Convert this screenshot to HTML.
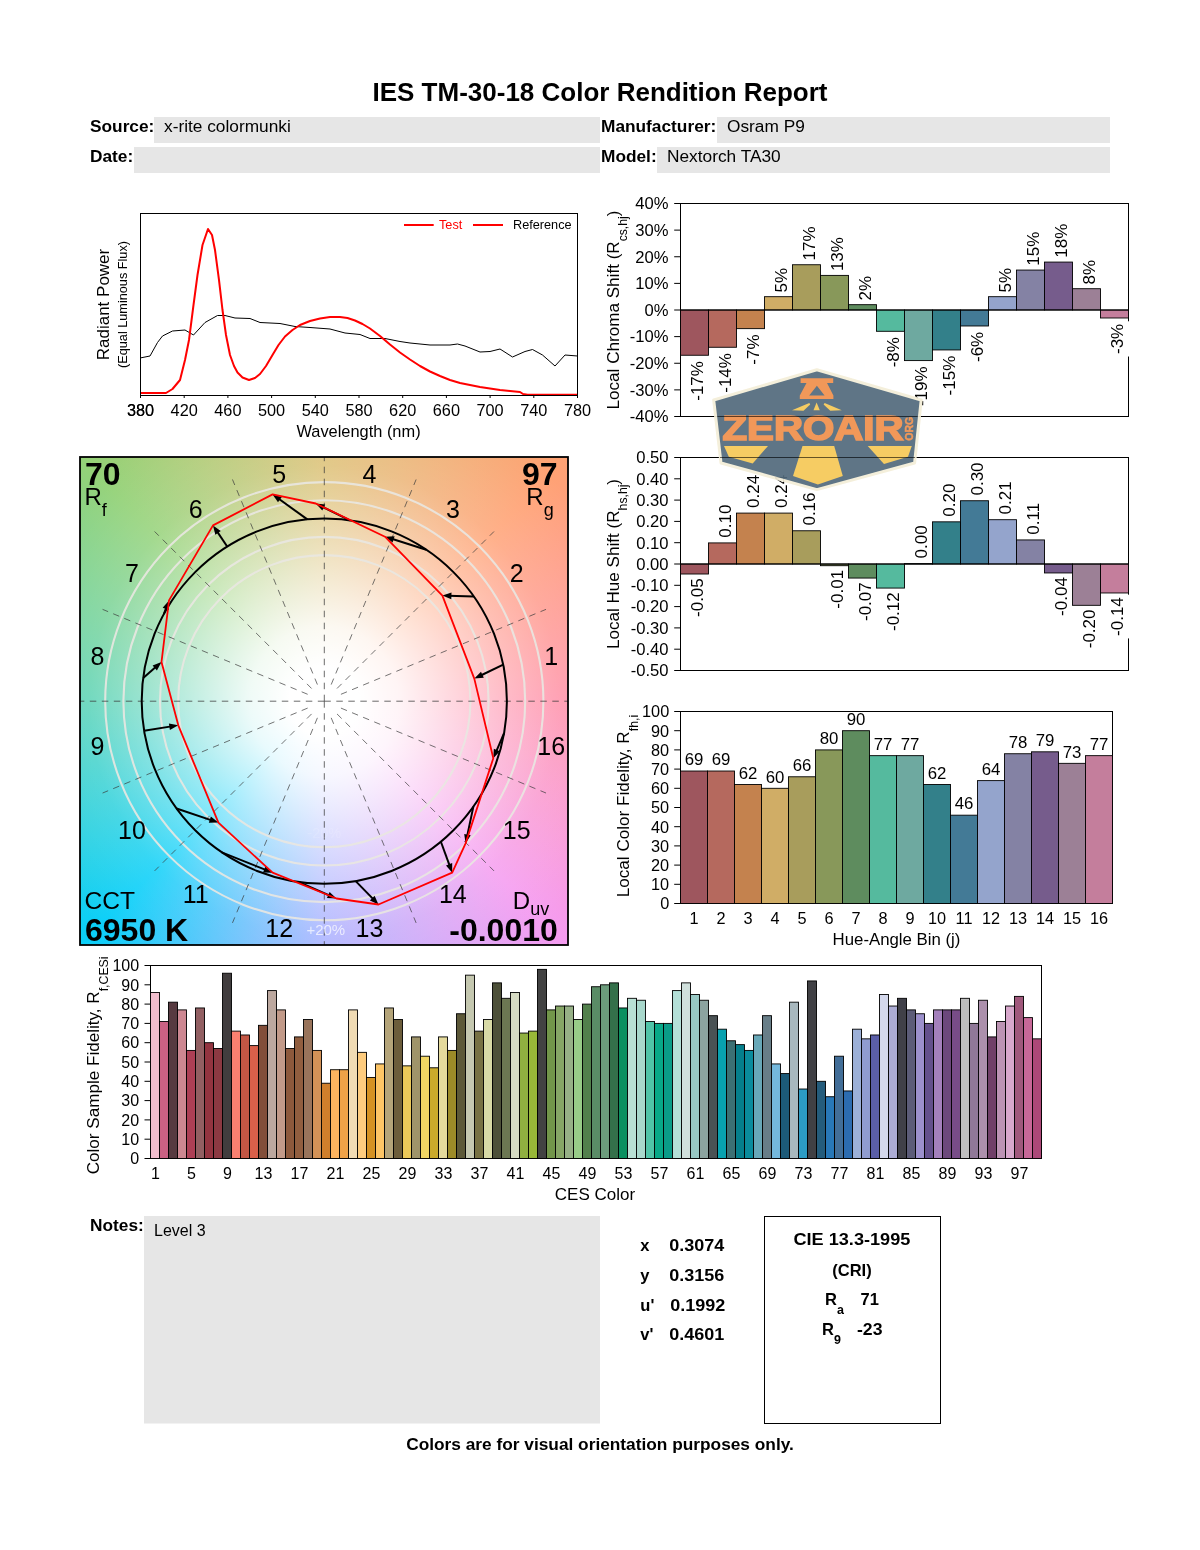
<!DOCTYPE html>
<html lang="en"><head><meta charset="utf-8"><title>IES TM-30-18 Color Rendition Report</title>
<style>
html,body{margin:0;padding:0;background:#fff;}
body{width:1200px;height:1550px;position:relative;overflow:hidden;font-family:"Liberation Sans", sans-serif;}
#cvgbg{position:absolute;left:80px;top:457px;width:488px;height:488px;
background:
radial-gradient(circle at 244.3px 244.2px, rgba(255,255,255,1) 0px, rgba(255,255,255,1) 35px, rgba(255,255,255,0.9) 75px, rgba(255,255,255,0.66) 125px, rgba(255,255,255,0.38) 183px, rgba(255,255,255,0.16) 235px, rgba(255,255,255,0) 320px),
conic-gradient(from 90deg at 244.3px 244.2px, #ff90a8 0deg, #f59cf0 45deg, #a8b0ff 90deg, #0acff8 135deg, #58d2b4 180deg, #94d278 225deg, #dcc074 270deg, #ffa274 315deg, #ff90a8 360deg);}
svg{position:absolute;left:0;top:0;font-family:"Liberation Sans", sans-serif;}
</style></head><body>
<div id="cvgbg"></div>
<svg width="1200" height="1550" viewBox="0 0 1200 1550">
<defs><clipPath id="cvgclip"><rect x="80" y="457" width="488" height="488"/></clipPath></defs>
<text x="600.00" y="101.00" font-size="26" text-anchor="middle" font-weight="bold" fill="#000">IES TM-30-18 Color Rendition Report</text>
<rect x="154.00" y="117.00" width="446.00" height="26.00" fill="#e6e6e6" stroke="none" stroke-width="1"/>
<rect x="134.00" y="147.00" width="466.00" height="26.00" fill="#e6e6e6" stroke="none" stroke-width="1"/>
<rect x="717.00" y="117.00" width="393.00" height="26.00" fill="#e6e6e6" stroke="none" stroke-width="1"/>
<rect x="657.00" y="147.00" width="453.00" height="26.00" fill="#e6e6e6" stroke="none" stroke-width="1"/>
<text x="90.00" y="132.00" font-size="17.3" text-anchor="start" font-weight="bold" fill="#000">Source:</text>
<text x="90.00" y="162.00" font-size="17.3" text-anchor="start" font-weight="bold" fill="#000">Date:</text>
<text x="601.00" y="132.00" font-size="17.3" text-anchor="start" font-weight="bold" fill="#000">Manufacturer:</text>
<text x="601.00" y="162.00" font-size="17.3" text-anchor="start" font-weight="bold" fill="#000">Model:</text>
<text x="164.00" y="132.00" font-size="17.3" text-anchor="start" fill="#000">x-rite colormunki</text>
<text x="727.00" y="132.00" font-size="17.3" text-anchor="start" fill="#000">Osram P9</text>
<text x="667.00" y="162.00" font-size="17.3" text-anchor="start" fill="#000">Nextorch TA30</text>
<polyline points="140.0,358.0 150.0,356.0 157.5,342.5 162.5,336.0 172.5,331.0 185.0,330.0 193.5,335.0 205.0,322.5 217.5,315.5 225.0,315.5 235.0,318.0 250.0,318.5 260.0,322.5 280.0,323.5 295.0,326.5 310.0,327.5 330.0,329.0 345.0,333.0 360.0,334.5 370.0,338.5 385.0,338.5 400.0,341.5 410.0,343.0 430.0,345.0 450.0,345.0 457.5,344.0 465.0,346.0 480.0,352.0 490.0,351.5 500.0,349.0 512.5,357.0 525.0,351.5 532.5,349.5 542.5,355.0 555.0,366.0 565.0,355.0 577.5,356.0" fill="none" stroke="#000" stroke-width="1"/>
<polyline points="140.0,393.0 166.0,393.0 172.5,389.0 180.0,380.0 185.0,360.0 189.0,340.0 193.5,305.0 197.5,275.0 202.5,245.0 208.0,229.0 212.0,235.0 215.0,250.0 219.0,280.0 222.5,310.0 226.0,335.0 230.0,355.0 234.0,366.0 237.5,372.5 242.5,377.5 249.0,380.0 255.0,378.0 260.0,374.0 266.0,366.0 272.5,355.0 278.5,345.0 285.0,336.5 292.5,330.0 300.0,325.0 310.0,321.0 320.0,318.5 330.0,317.0 340.0,317.0 347.5,318.0 355.0,320.5 362.5,324.0 370.0,328.5 380.0,336.0 390.0,344.5 400.0,352.5 410.0,359.5 420.0,366.0 430.0,371.5 440.0,376.0 450.0,380.0 460.0,383.0 470.0,385.0 480.0,387.0 490.0,388.5 500.0,390.0 510.0,391.0 520.0,392.0 523.0,394.0 527.5,394.8 577.5,394.8" fill="none" stroke="#f00" stroke-width="2" stroke-linejoin="round"/>
<rect x="140.50" y="213.50" width="437.00" height="182.00" fill="none" stroke="#000" stroke-width="1"/>
<line x1="140.50" y1="395.50" x2="140.50" y2="398.00" stroke="#000" stroke-width="1"/>
<text x="140.50" y="415.50" font-size="16.3" text-anchor="middle" fill="#000">380</text>
<line x1="184.20" y1="395.50" x2="184.20" y2="398.00" stroke="#000" stroke-width="1"/>
<text x="184.20" y="415.50" font-size="16.3" text-anchor="middle" fill="#000">420</text>
<line x1="227.90" y1="395.50" x2="227.90" y2="398.00" stroke="#000" stroke-width="1"/>
<text x="227.90" y="415.50" font-size="16.3" text-anchor="middle" fill="#000">460</text>
<line x1="271.60" y1="395.50" x2="271.60" y2="398.00" stroke="#000" stroke-width="1"/>
<text x="271.60" y="415.50" font-size="16.3" text-anchor="middle" fill="#000">500</text>
<line x1="315.30" y1="395.50" x2="315.30" y2="398.00" stroke="#000" stroke-width="1"/>
<text x="315.30" y="415.50" font-size="16.3" text-anchor="middle" fill="#000">540</text>
<line x1="359.00" y1="395.50" x2="359.00" y2="398.00" stroke="#000" stroke-width="1"/>
<text x="359.00" y="415.50" font-size="16.3" text-anchor="middle" fill="#000">580</text>
<line x1="402.70" y1="395.50" x2="402.70" y2="398.00" stroke="#000" stroke-width="1"/>
<text x="402.70" y="415.50" font-size="16.3" text-anchor="middle" fill="#000">620</text>
<line x1="446.40" y1="395.50" x2="446.40" y2="398.00" stroke="#000" stroke-width="1"/>
<text x="446.40" y="415.50" font-size="16.3" text-anchor="middle" fill="#000">660</text>
<line x1="490.10" y1="395.50" x2="490.10" y2="398.00" stroke="#000" stroke-width="1"/>
<text x="490.10" y="415.50" font-size="16.3" text-anchor="middle" fill="#000">700</text>
<line x1="533.80" y1="395.50" x2="533.80" y2="398.00" stroke="#000" stroke-width="1"/>
<text x="533.80" y="415.50" font-size="16.3" text-anchor="middle" fill="#000">740</text>
<line x1="577.50" y1="395.50" x2="577.50" y2="398.00" stroke="#000" stroke-width="1"/>
<text x="577.50" y="415.50" font-size="16.3" text-anchor="middle" fill="#000">780</text>
<text x="140.50" y="415.50" font-size="16.3" text-anchor="middle" fill="#000">380</text>
<text x="358.50" y="437.00" font-size="16.4" text-anchor="middle" fill="#000">Wavelength (nm)</text>
<text x="109.30" y="304.50" font-size="17" text-anchor="middle" fill="#000" transform="rotate(-90 109.30 304.50)">Radiant Power</text>
<text x="127.30" y="304.50" font-size="12.7" text-anchor="middle" fill="#000" transform="rotate(-90 127.30 304.50)">(Equal Luminous Flux)</text>
<line x1="404.00" y1="225.00" x2="433.70" y2="225.00" stroke="#f00" stroke-width="2"/>
<text x="439.00" y="229.00" font-size="12.7" text-anchor="start" fill="#f00">Test</text>
<line x1="473.00" y1="225.00" x2="503.00" y2="225.00" stroke="#f00" stroke-width="2"/>
<text x="513.00" y="229.00" font-size="12.7" text-anchor="start" fill="#000">Reference</text>
<rect x="680.50" y="203.50" width="448.00" height="213.00" fill="#fff" stroke="#000" stroke-width="1"/>
<line x1="674.20" y1="416.50" x2="680.50" y2="416.50" stroke="#000" stroke-width="1"/>
<text x="668.50" y="422.30" font-size="16.6" text-anchor="end" fill="#000">-40%</text>
<line x1="674.20" y1="389.88" x2="680.50" y2="389.88" stroke="#000" stroke-width="1"/>
<text x="668.50" y="395.68" font-size="16.6" text-anchor="end" fill="#000">-30%</text>
<line x1="674.20" y1="363.25" x2="680.50" y2="363.25" stroke="#000" stroke-width="1"/>
<text x="668.50" y="369.05" font-size="16.6" text-anchor="end" fill="#000">-20%</text>
<line x1="674.20" y1="336.62" x2="680.50" y2="336.62" stroke="#000" stroke-width="1"/>
<text x="668.50" y="342.43" font-size="16.6" text-anchor="end" fill="#000">-10%</text>
<line x1="674.20" y1="310.00" x2="680.50" y2="310.00" stroke="#000" stroke-width="1"/>
<text x="668.50" y="315.80" font-size="16.6" text-anchor="end" fill="#000">0%</text>
<line x1="674.20" y1="283.38" x2="680.50" y2="283.38" stroke="#000" stroke-width="1"/>
<text x="668.50" y="289.18" font-size="16.6" text-anchor="end" fill="#000">10%</text>
<line x1="674.20" y1="256.75" x2="680.50" y2="256.75" stroke="#000" stroke-width="1"/>
<text x="668.50" y="262.55" font-size="16.6" text-anchor="end" fill="#000">20%</text>
<line x1="674.20" y1="230.12" x2="680.50" y2="230.12" stroke="#000" stroke-width="1"/>
<text x="668.50" y="235.93" font-size="16.6" text-anchor="end" fill="#000">30%</text>
<line x1="674.20" y1="203.50" x2="680.50" y2="203.50" stroke="#000" stroke-width="1"/>
<text x="668.50" y="209.30" font-size="16.6" text-anchor="end" fill="#000">40%</text>
<rect x="680.50" y="310.00" width="28.00" height="45.26" fill="#9E565E" stroke="#000" stroke-width="0.9"/>
<rect x="708.50" y="310.00" width="28.00" height="37.27" fill="#B5695E" stroke="#000" stroke-width="0.9"/>
<rect x="736.50" y="310.00" width="28.00" height="18.64" fill="#C4824E" stroke="#000" stroke-width="0.9"/>
<rect x="764.50" y="296.69" width="28.00" height="13.31" fill="#D0AD66" stroke="#000" stroke-width="0.9"/>
<rect x="792.50" y="264.74" width="28.00" height="45.26" fill="#A89D5C" stroke="#000" stroke-width="0.9"/>
<rect x="820.50" y="275.39" width="28.00" height="34.61" fill="#88985A" stroke="#000" stroke-width="0.9"/>
<rect x="848.50" y="304.68" width="28.00" height="5.32" fill="#5E8C5E" stroke="#000" stroke-width="0.9"/>
<rect x="876.50" y="310.00" width="28.00" height="21.30" fill="#55BA9E" stroke="#000" stroke-width="0.9"/>
<rect x="904.50" y="310.00" width="28.00" height="50.59" fill="#6EA9A0" stroke="#000" stroke-width="0.9"/>
<rect x="932.50" y="310.00" width="28.00" height="39.94" fill="#33808A" stroke="#000" stroke-width="0.9"/>
<rect x="960.50" y="310.00" width="28.00" height="15.98" fill="#437A96" stroke="#000" stroke-width="0.9"/>
<rect x="988.50" y="296.69" width="28.00" height="13.31" fill="#94A4CC" stroke="#000" stroke-width="0.9"/>
<rect x="1016.50" y="270.06" width="28.00" height="39.94" fill="#8482A4" stroke="#000" stroke-width="0.9"/>
<rect x="1044.50" y="262.07" width="28.00" height="47.93" fill="#765C8C" stroke="#000" stroke-width="0.9"/>
<rect x="1072.50" y="288.70" width="28.00" height="21.30" fill="#9C8096" stroke="#000" stroke-width="0.9"/>
<rect x="1100.50" y="310.00" width="28.00" height="7.99" fill="#C47E9C" stroke="#000" stroke-width="0.9"/>
<line x1="680.50" y1="310.00" x2="1128.50" y2="310.00" stroke="#000" stroke-width="1"/>
<rect x="683.50" y="358.56" width="24.40" height="44.68" fill="#fff" stroke="none" stroke-width="1"/>
<text x="702.60" y="361.06" font-size="17" text-anchor="end" fill="#000" transform="rotate(-90 702.60 361.06)">-17%</text>
<rect x="711.50" y="350.57" width="24.40" height="44.68" fill="#fff" stroke="none" stroke-width="1"/>
<text x="730.60" y="353.07" font-size="17" text-anchor="end" fill="#000" transform="rotate(-90 730.60 353.07)">-14%</text>
<rect x="739.50" y="331.94" width="24.40" height="35.23" fill="#fff" stroke="none" stroke-width="1"/>
<text x="758.60" y="334.44" font-size="17" text-anchor="end" fill="#000" transform="rotate(-90 758.60 334.44)">-7%</text>
<rect x="767.50" y="265.32" width="24.40" height="29.57" fill="#fff" stroke="none" stroke-width="1"/>
<text x="786.60" y="292.39" font-size="17" text-anchor="start" fill="#000" transform="rotate(-90 786.60 292.39)">5%</text>
<rect x="795.50" y="223.91" width="24.40" height="39.02" fill="#fff" stroke="none" stroke-width="1"/>
<text x="814.60" y="260.44" font-size="17" text-anchor="start" fill="#000" transform="rotate(-90 814.60 260.44)">17%</text>
<rect x="823.50" y="234.56" width="24.40" height="39.02" fill="#fff" stroke="none" stroke-width="1"/>
<text x="842.60" y="271.09" font-size="17" text-anchor="start" fill="#000" transform="rotate(-90 842.60 271.09)">13%</text>
<rect x="851.50" y="273.30" width="24.40" height="29.57" fill="#fff" stroke="none" stroke-width="1"/>
<text x="870.60" y="300.38" font-size="17" text-anchor="start" fill="#000" transform="rotate(-90 870.60 300.38)">2%</text>
<rect x="879.50" y="334.60" width="24.40" height="35.23" fill="#fff" stroke="none" stroke-width="1"/>
<text x="898.60" y="337.10" font-size="17" text-anchor="end" fill="#000" transform="rotate(-90 898.60 337.10)">-8%</text>
<rect x="907.50" y="363.89" width="24.40" height="44.68" fill="#fff" stroke="none" stroke-width="1"/>
<text x="926.60" y="366.39" font-size="17" text-anchor="end" fill="#000" transform="rotate(-90 926.60 366.39)">-19%</text>
<rect x="935.50" y="353.24" width="24.40" height="44.68" fill="#fff" stroke="none" stroke-width="1"/>
<text x="954.60" y="355.74" font-size="17" text-anchor="end" fill="#000" transform="rotate(-90 954.60 355.74)">-15%</text>
<rect x="963.50" y="329.28" width="24.40" height="35.23" fill="#fff" stroke="none" stroke-width="1"/>
<text x="982.60" y="331.78" font-size="17" text-anchor="end" fill="#000" transform="rotate(-90 982.60 331.78)">-6%</text>
<rect x="991.50" y="265.32" width="24.40" height="29.57" fill="#fff" stroke="none" stroke-width="1"/>
<text x="1010.60" y="292.39" font-size="17" text-anchor="start" fill="#000" transform="rotate(-90 1010.60 292.39)">5%</text>
<rect x="1019.50" y="229.24" width="24.40" height="39.02" fill="#fff" stroke="none" stroke-width="1"/>
<text x="1038.60" y="265.76" font-size="17" text-anchor="start" fill="#000" transform="rotate(-90 1038.60 265.76)">15%</text>
<rect x="1047.50" y="221.25" width="24.40" height="39.02" fill="#fff" stroke="none" stroke-width="1"/>
<text x="1066.60" y="257.77" font-size="17" text-anchor="start" fill="#000" transform="rotate(-90 1066.60 257.77)">18%</text>
<rect x="1075.50" y="257.33" width="24.40" height="29.57" fill="#fff" stroke="none" stroke-width="1"/>
<text x="1094.60" y="284.40" font-size="17" text-anchor="start" fill="#000" transform="rotate(-90 1094.60 284.40)">8%</text>
<rect x="1103.50" y="321.29" width="26.00" height="35.23" fill="#fff" stroke="none" stroke-width="1"/>
<text x="1122.60" y="323.79" font-size="17" text-anchor="end" fill="#000" transform="rotate(-90 1122.60 323.79)">-3%</text>
<text transform="rotate(-90 619.3 310.0)" x="619.3" y="310.0" font-size="17.1" text-anchor="middle">Local Chroma Shift (R<tspan font-size="12.2" dy="8">cs,hj</tspan><tspan dy="-8">)</tspan></text>
<rect x="680.50" y="457.50" width="448.00" height="213.00" fill="#fff" stroke="#000" stroke-width="1"/>
<line x1="674.20" y1="670.50" x2="680.50" y2="670.50" stroke="#000" stroke-width="1"/>
<text x="668.50" y="676.30" font-size="16.6" text-anchor="end" fill="#000">-0.50</text>
<line x1="674.20" y1="649.20" x2="680.50" y2="649.20" stroke="#000" stroke-width="1"/>
<text x="668.50" y="655.00" font-size="16.6" text-anchor="end" fill="#000">-0.40</text>
<line x1="674.20" y1="627.90" x2="680.50" y2="627.90" stroke="#000" stroke-width="1"/>
<text x="668.50" y="633.70" font-size="16.6" text-anchor="end" fill="#000">-0.30</text>
<line x1="674.20" y1="606.60" x2="680.50" y2="606.60" stroke="#000" stroke-width="1"/>
<text x="668.50" y="612.40" font-size="16.6" text-anchor="end" fill="#000">-0.20</text>
<line x1="674.20" y1="585.30" x2="680.50" y2="585.30" stroke="#000" stroke-width="1"/>
<text x="668.50" y="591.10" font-size="16.6" text-anchor="end" fill="#000">-0.10</text>
<line x1="674.20" y1="564.00" x2="680.50" y2="564.00" stroke="#000" stroke-width="1"/>
<text x="668.50" y="569.80" font-size="16.6" text-anchor="end" fill="#000">0.00</text>
<line x1="674.20" y1="542.70" x2="680.50" y2="542.70" stroke="#000" stroke-width="1"/>
<text x="668.50" y="548.50" font-size="16.6" text-anchor="end" fill="#000">0.10</text>
<line x1="674.20" y1="521.40" x2="680.50" y2="521.40" stroke="#000" stroke-width="1"/>
<text x="668.50" y="527.20" font-size="16.6" text-anchor="end" fill="#000">0.20</text>
<line x1="674.20" y1="500.10" x2="680.50" y2="500.10" stroke="#000" stroke-width="1"/>
<text x="668.50" y="505.90" font-size="16.6" text-anchor="end" fill="#000">0.30</text>
<line x1="674.20" y1="478.80" x2="680.50" y2="478.80" stroke="#000" stroke-width="1"/>
<text x="668.50" y="484.60" font-size="16.6" text-anchor="end" fill="#000">0.40</text>
<line x1="674.20" y1="457.50" x2="680.50" y2="457.50" stroke="#000" stroke-width="1"/>
<text x="668.50" y="463.30" font-size="16.6" text-anchor="end" fill="#000">0.50</text>
<rect x="680.50" y="564.00" width="28.00" height="10.01" fill="#9E565E" stroke="#000" stroke-width="0.9"/>
<rect x="708.50" y="542.91" width="28.00" height="21.09" fill="#B5695E" stroke="#000" stroke-width="0.9"/>
<rect x="736.50" y="513.09" width="28.00" height="50.91" fill="#C4824E" stroke="#000" stroke-width="0.9"/>
<rect x="764.50" y="513.09" width="28.00" height="50.91" fill="#D0AD66" stroke="#000" stroke-width="0.9"/>
<rect x="792.50" y="530.77" width="28.00" height="33.23" fill="#A89D5C" stroke="#000" stroke-width="0.9"/>
<rect x="820.50" y="564.00" width="28.00" height="1.70" fill="#88985A" stroke="#000" stroke-width="0.9"/>
<rect x="848.50" y="564.00" width="28.00" height="14.06" fill="#5E8C5E" stroke="#000" stroke-width="0.9"/>
<rect x="876.50" y="564.00" width="28.00" height="24.07" fill="#55BA9E" stroke="#000" stroke-width="0.9"/>
<rect x="904.50" y="563.57" width="28.00" height="0.50" fill="#6EA9A0" stroke="#000" stroke-width="0.9"/>
<rect x="932.50" y="521.83" width="28.00" height="42.17" fill="#33808A" stroke="#000" stroke-width="0.9"/>
<rect x="960.50" y="500.74" width="28.00" height="63.26" fill="#437A96" stroke="#000" stroke-width="0.9"/>
<rect x="988.50" y="519.70" width="28.00" height="44.30" fill="#94A4CC" stroke="#000" stroke-width="0.9"/>
<rect x="1016.50" y="539.93" width="28.00" height="24.07" fill="#8482A4" stroke="#000" stroke-width="0.9"/>
<rect x="1044.50" y="564.00" width="28.00" height="8.95" fill="#765C8C" stroke="#000" stroke-width="0.9"/>
<rect x="1072.50" y="564.00" width="28.00" height="41.32" fill="#9C8096" stroke="#000" stroke-width="0.9"/>
<rect x="1100.50" y="564.00" width="28.00" height="28.97" fill="#C47E9C" stroke="#000" stroke-width="0.9"/>
<line x1="680.50" y1="564.00" x2="1128.50" y2="564.00" stroke="#000" stroke-width="1"/>
<rect x="683.50" y="575.71" width="24.40" height="43.74" fill="#fff" stroke="none" stroke-width="1"/>
<text x="702.60" y="578.21" font-size="17" text-anchor="end" fill="#000" transform="rotate(-90 702.60 578.21)">-0.05</text>
<rect x="711.50" y="502.13" width="24.40" height="38.08" fill="#fff" stroke="none" stroke-width="1"/>
<text x="730.60" y="537.71" font-size="17" text-anchor="start" fill="#000" transform="rotate(-90 730.60 537.71)">0.10</text>
<rect x="739.50" y="472.31" width="24.40" height="38.08" fill="#fff" stroke="none" stroke-width="1"/>
<text x="758.60" y="507.89" font-size="17" text-anchor="start" fill="#000" transform="rotate(-90 758.60 507.89)">0.24</text>
<rect x="767.50" y="472.31" width="24.40" height="38.08" fill="#fff" stroke="none" stroke-width="1"/>
<text x="786.60" y="507.89" font-size="17" text-anchor="start" fill="#000" transform="rotate(-90 786.60 507.89)">0.24</text>
<rect x="795.50" y="489.99" width="24.40" height="38.08" fill="#fff" stroke="none" stroke-width="1"/>
<text x="814.60" y="525.57" font-size="17" text-anchor="start" fill="#000" transform="rotate(-90 814.60 525.57)">0.16</text>
<rect x="823.50" y="567.40" width="24.40" height="43.74" fill="#fff" stroke="none" stroke-width="1"/>
<text x="842.60" y="569.90" font-size="17" text-anchor="end" fill="#000" transform="rotate(-90 842.60 569.90)">-0.01</text>
<rect x="851.50" y="579.76" width="24.40" height="43.74" fill="#fff" stroke="none" stroke-width="1"/>
<text x="870.60" y="582.26" font-size="17" text-anchor="end" fill="#000" transform="rotate(-90 870.60 582.26)">-0.07</text>
<rect x="879.50" y="589.77" width="24.40" height="43.74" fill="#fff" stroke="none" stroke-width="1"/>
<text x="898.60" y="592.27" font-size="17" text-anchor="end" fill="#000" transform="rotate(-90 898.60 592.27)">-0.12</text>
<rect x="907.50" y="522.79" width="24.40" height="38.08" fill="#fff" stroke="none" stroke-width="1"/>
<text x="926.60" y="558.37" font-size="17" text-anchor="start" fill="#000" transform="rotate(-90 926.60 558.37)">0.00</text>
<rect x="935.50" y="481.04" width="24.40" height="38.08" fill="#fff" stroke="none" stroke-width="1"/>
<text x="954.60" y="516.63" font-size="17" text-anchor="start" fill="#000" transform="rotate(-90 954.60 516.63)">0.20</text>
<rect x="963.50" y="459.96" width="24.40" height="38.08" fill="#fff" stroke="none" stroke-width="1"/>
<text x="982.60" y="495.54" font-size="17" text-anchor="start" fill="#000" transform="rotate(-90 982.60 495.54)">0.30</text>
<rect x="991.50" y="478.91" width="24.40" height="38.08" fill="#fff" stroke="none" stroke-width="1"/>
<text x="1010.60" y="514.50" font-size="17" text-anchor="start" fill="#000" transform="rotate(-90 1010.60 514.50)">0.21</text>
<rect x="1019.50" y="500.41" width="24.40" height="36.82" fill="#fff" stroke="none" stroke-width="1"/>
<text x="1038.60" y="534.73" font-size="17" text-anchor="start" fill="#000" transform="rotate(-90 1038.60 534.73)">0.11</text>
<rect x="1047.50" y="574.65" width="24.40" height="43.74" fill="#fff" stroke="none" stroke-width="1"/>
<text x="1066.60" y="577.15" font-size="17" text-anchor="end" fill="#000" transform="rotate(-90 1066.60 577.15)">-0.04</text>
<rect x="1075.50" y="607.02" width="24.40" height="43.74" fill="#fff" stroke="none" stroke-width="1"/>
<text x="1094.60" y="609.52" font-size="17" text-anchor="end" fill="#000" transform="rotate(-90 1094.60 609.52)">-0.20</text>
<rect x="1103.50" y="594.67" width="26.00" height="43.74" fill="#fff" stroke="none" stroke-width="1"/>
<text x="1122.60" y="597.17" font-size="17" text-anchor="end" fill="#000" transform="rotate(-90 1122.60 597.17)">-0.14</text>
<text transform="rotate(-90 619.3 564.0)" x="619.3" y="564.0" font-size="17.1" text-anchor="middle">Local Hue Shift (R<tspan font-size="12.2" dy="8">hs,hj</tspan><tspan dy="-8">)</tspan></text>
<rect x="680.50" y="711.50" width="432.00" height="192.00" fill="#fff" stroke="#000" stroke-width="1"/>
<line x1="674.20" y1="903.50" x2="680.50" y2="903.50" stroke="#000" stroke-width="1"/>
<text x="669.20" y="909.30" font-size="16.3" text-anchor="end" fill="#000">0</text>
<line x1="674.20" y1="884.30" x2="680.50" y2="884.30" stroke="#000" stroke-width="1"/>
<text x="669.20" y="890.10" font-size="16.3" text-anchor="end" fill="#000">10</text>
<line x1="674.20" y1="865.10" x2="680.50" y2="865.10" stroke="#000" stroke-width="1"/>
<text x="669.20" y="870.90" font-size="16.3" text-anchor="end" fill="#000">20</text>
<line x1="674.20" y1="845.90" x2="680.50" y2="845.90" stroke="#000" stroke-width="1"/>
<text x="669.20" y="851.70" font-size="16.3" text-anchor="end" fill="#000">30</text>
<line x1="674.20" y1="826.70" x2="680.50" y2="826.70" stroke="#000" stroke-width="1"/>
<text x="669.20" y="832.50" font-size="16.3" text-anchor="end" fill="#000">40</text>
<line x1="674.20" y1="807.50" x2="680.50" y2="807.50" stroke="#000" stroke-width="1"/>
<text x="669.20" y="813.30" font-size="16.3" text-anchor="end" fill="#000">50</text>
<line x1="674.20" y1="788.30" x2="680.50" y2="788.30" stroke="#000" stroke-width="1"/>
<text x="669.20" y="794.10" font-size="16.3" text-anchor="end" fill="#000">60</text>
<line x1="674.20" y1="769.10" x2="680.50" y2="769.10" stroke="#000" stroke-width="1"/>
<text x="669.20" y="774.90" font-size="16.3" text-anchor="end" fill="#000">70</text>
<line x1="674.20" y1="749.90" x2="680.50" y2="749.90" stroke="#000" stroke-width="1"/>
<text x="669.20" y="755.70" font-size="16.3" text-anchor="end" fill="#000">80</text>
<line x1="674.20" y1="730.70" x2="680.50" y2="730.70" stroke="#000" stroke-width="1"/>
<text x="669.20" y="736.50" font-size="16.3" text-anchor="end" fill="#000">90</text>
<line x1="674.20" y1="711.50" x2="680.50" y2="711.50" stroke="#000" stroke-width="1"/>
<text x="669.20" y="717.30" font-size="16.3" text-anchor="end" fill="#000">100</text>
<rect x="680.50" y="771.02" width="27.00" height="132.48" fill="#9E565E" stroke="#000" stroke-width="0.9"/>
<text x="694.00" y="765.32" font-size="16.8" text-anchor="middle" fill="#000">69</text>
<text x="694.00" y="924.00" font-size="16.3" text-anchor="middle" fill="#000">1</text>
<rect x="707.50" y="771.02" width="27.00" height="132.48" fill="#B5695E" stroke="#000" stroke-width="0.9"/>
<text x="721.00" y="765.32" font-size="16.8" text-anchor="middle" fill="#000">69</text>
<text x="721.00" y="924.00" font-size="16.3" text-anchor="middle" fill="#000">2</text>
<rect x="734.50" y="784.46" width="27.00" height="119.04" fill="#C4824E" stroke="#000" stroke-width="0.9"/>
<text x="748.00" y="778.76" font-size="16.8" text-anchor="middle" fill="#000">62</text>
<text x="748.00" y="924.00" font-size="16.3" text-anchor="middle" fill="#000">3</text>
<rect x="761.50" y="788.30" width="27.00" height="115.20" fill="#D0AD66" stroke="#000" stroke-width="0.9"/>
<text x="775.00" y="782.60" font-size="16.8" text-anchor="middle" fill="#000">60</text>
<text x="775.00" y="924.00" font-size="16.3" text-anchor="middle" fill="#000">4</text>
<rect x="788.50" y="776.78" width="27.00" height="126.72" fill="#A89D5C" stroke="#000" stroke-width="0.9"/>
<text x="802.00" y="771.08" font-size="16.8" text-anchor="middle" fill="#000">66</text>
<text x="802.00" y="924.00" font-size="16.3" text-anchor="middle" fill="#000">5</text>
<rect x="815.50" y="749.90" width="27.00" height="153.60" fill="#88985A" stroke="#000" stroke-width="0.9"/>
<text x="829.00" y="744.20" font-size="16.8" text-anchor="middle" fill="#000">80</text>
<text x="829.00" y="924.00" font-size="16.3" text-anchor="middle" fill="#000">6</text>
<rect x="842.50" y="730.70" width="27.00" height="172.80" fill="#5E8C5E" stroke="#000" stroke-width="0.9"/>
<text x="856.00" y="725.00" font-size="16.8" text-anchor="middle" fill="#000">90</text>
<text x="856.00" y="924.00" font-size="16.3" text-anchor="middle" fill="#000">7</text>
<rect x="869.50" y="755.66" width="27.00" height="147.84" fill="#55BA9E" stroke="#000" stroke-width="0.9"/>
<text x="883.00" y="749.96" font-size="16.8" text-anchor="middle" fill="#000">77</text>
<text x="883.00" y="924.00" font-size="16.3" text-anchor="middle" fill="#000">8</text>
<rect x="896.50" y="755.66" width="27.00" height="147.84" fill="#6EA9A0" stroke="#000" stroke-width="0.9"/>
<text x="910.00" y="749.96" font-size="16.8" text-anchor="middle" fill="#000">77</text>
<text x="910.00" y="924.00" font-size="16.3" text-anchor="middle" fill="#000">9</text>
<rect x="923.50" y="784.46" width="27.00" height="119.04" fill="#33808A" stroke="#000" stroke-width="0.9"/>
<text x="937.00" y="778.76" font-size="16.8" text-anchor="middle" fill="#000">62</text>
<text x="937.00" y="924.00" font-size="16.3" text-anchor="middle" fill="#000">10</text>
<rect x="950.50" y="815.18" width="27.00" height="88.32" fill="#437A96" stroke="#000" stroke-width="0.9"/>
<text x="964.00" y="809.48" font-size="16.8" text-anchor="middle" fill="#000">46</text>
<text x="964.00" y="924.00" font-size="16.3" text-anchor="middle" fill="#000">11</text>
<rect x="977.50" y="780.62" width="27.00" height="122.88" fill="#94A4CC" stroke="#000" stroke-width="0.9"/>
<text x="991.00" y="774.92" font-size="16.8" text-anchor="middle" fill="#000">64</text>
<text x="991.00" y="924.00" font-size="16.3" text-anchor="middle" fill="#000">12</text>
<rect x="1004.50" y="753.74" width="27.00" height="149.76" fill="#8482A4" stroke="#000" stroke-width="0.9"/>
<text x="1018.00" y="748.04" font-size="16.8" text-anchor="middle" fill="#000">78</text>
<text x="1018.00" y="924.00" font-size="16.3" text-anchor="middle" fill="#000">13</text>
<rect x="1031.50" y="751.82" width="27.00" height="151.68" fill="#765C8C" stroke="#000" stroke-width="0.9"/>
<text x="1045.00" y="746.12" font-size="16.8" text-anchor="middle" fill="#000">79</text>
<text x="1045.00" y="924.00" font-size="16.3" text-anchor="middle" fill="#000">14</text>
<rect x="1058.50" y="763.34" width="27.00" height="140.16" fill="#9C8096" stroke="#000" stroke-width="0.9"/>
<text x="1072.00" y="757.64" font-size="16.8" text-anchor="middle" fill="#000">73</text>
<text x="1072.00" y="924.00" font-size="16.3" text-anchor="middle" fill="#000">15</text>
<rect x="1085.50" y="755.66" width="27.00" height="147.84" fill="#C47E9C" stroke="#000" stroke-width="0.9"/>
<text x="1099.00" y="749.96" font-size="16.8" text-anchor="middle" fill="#000">77</text>
<text x="1099.00" y="924.00" font-size="16.3" text-anchor="middle" fill="#000">16</text>
<text x="896.50" y="944.70" font-size="16.8" text-anchor="middle" fill="#000">Hue-Angle Bin (j)</text>
<text transform="rotate(-90 629.3 806.0)" x="629.3" y="806.0" font-size="17.1" text-anchor="middle">Local Color Fidelity, R<tspan font-size="12.4" dy="8.4">fh,i</tspan></text>
<rect x="150.50" y="965.50" width="891.00" height="193.00" fill="#fff" stroke="#000" stroke-width="1"/>
<line x1="144.50" y1="1158.50" x2="150.50" y2="1158.50" stroke="#000" stroke-width="1"/>
<text x="139.10" y="1164.20" font-size="16" text-anchor="end" fill="#000">0</text>
<line x1="144.50" y1="1139.20" x2="150.50" y2="1139.20" stroke="#000" stroke-width="1"/>
<text x="139.10" y="1144.90" font-size="16" text-anchor="end" fill="#000">10</text>
<line x1="144.50" y1="1119.90" x2="150.50" y2="1119.90" stroke="#000" stroke-width="1"/>
<text x="139.10" y="1125.60" font-size="16" text-anchor="end" fill="#000">20</text>
<line x1="144.50" y1="1100.60" x2="150.50" y2="1100.60" stroke="#000" stroke-width="1"/>
<text x="139.10" y="1106.30" font-size="16" text-anchor="end" fill="#000">30</text>
<line x1="144.50" y1="1081.30" x2="150.50" y2="1081.30" stroke="#000" stroke-width="1"/>
<text x="139.10" y="1087.00" font-size="16" text-anchor="end" fill="#000">40</text>
<line x1="144.50" y1="1062.00" x2="150.50" y2="1062.00" stroke="#000" stroke-width="1"/>
<text x="139.10" y="1067.70" font-size="16" text-anchor="end" fill="#000">50</text>
<line x1="144.50" y1="1042.70" x2="150.50" y2="1042.70" stroke="#000" stroke-width="1"/>
<text x="139.10" y="1048.40" font-size="16" text-anchor="end" fill="#000">60</text>
<line x1="144.50" y1="1023.40" x2="150.50" y2="1023.40" stroke="#000" stroke-width="1"/>
<text x="139.10" y="1029.10" font-size="16" text-anchor="end" fill="#000">70</text>
<line x1="144.50" y1="1004.10" x2="150.50" y2="1004.10" stroke="#000" stroke-width="1"/>
<text x="139.10" y="1009.80" font-size="16" text-anchor="end" fill="#000">80</text>
<line x1="144.50" y1="984.80" x2="150.50" y2="984.80" stroke="#000" stroke-width="1"/>
<text x="139.10" y="990.50" font-size="16" text-anchor="end" fill="#000">90</text>
<line x1="144.50" y1="965.50" x2="150.50" y2="965.50" stroke="#000" stroke-width="1"/>
<text x="139.10" y="971.20" font-size="16" text-anchor="end" fill="#000">100</text>
<rect x="150.50" y="992.52" width="9.00" height="165.98" fill="#F1BDCD" stroke="#000" stroke-width="0.9"/>
<rect x="159.50" y="1021.47" width="9.00" height="137.03" fill="#CA6183" stroke="#000" stroke-width="0.9"/>
<rect x="168.50" y="1002.17" width="9.00" height="156.33" fill="#573A40" stroke="#000" stroke-width="0.9"/>
<rect x="177.50" y="1009.89" width="9.00" height="148.61" fill="#CD8791" stroke="#000" stroke-width="0.9"/>
<rect x="186.50" y="1050.42" width="9.00" height="108.08" fill="#AD3F55" stroke="#000" stroke-width="0.9"/>
<rect x="195.50" y="1007.96" width="9.00" height="150.54" fill="#925F62" stroke="#000" stroke-width="0.9"/>
<rect x="204.50" y="1042.70" width="9.00" height="115.80" fill="#933440" stroke="#000" stroke-width="0.9"/>
<rect x="213.50" y="1048.49" width="9.00" height="110.01" fill="#8C3942" stroke="#000" stroke-width="0.9"/>
<rect x="222.50" y="973.22" width="9.00" height="185.28" fill="#413D3E" stroke="#000" stroke-width="0.9"/>
<rect x="231.50" y="1031.12" width="9.00" height="127.38" fill="#FA8070" stroke="#000" stroke-width="0.9"/>
<rect x="240.50" y="1034.98" width="9.00" height="123.52" fill="#C35644" stroke="#000" stroke-width="0.9"/>
<rect x="249.50" y="1045.60" width="9.00" height="112.90" fill="#DA604A" stroke="#000" stroke-width="0.9"/>
<rect x="258.50" y="1025.33" width="9.00" height="133.17" fill="#824E39" stroke="#000" stroke-width="0.9"/>
<rect x="267.50" y="990.59" width="9.00" height="167.91" fill="#BCA89F" stroke="#000" stroke-width="0.9"/>
<rect x="276.50" y="1009.89" width="9.00" height="148.61" fill="#C29A89" stroke="#000" stroke-width="0.9"/>
<rect x="285.50" y="1048.49" width="9.00" height="110.01" fill="#8D593C" stroke="#000" stroke-width="0.9"/>
<rect x="294.50" y="1036.91" width="9.00" height="121.59" fill="#915E3F" stroke="#000" stroke-width="0.9"/>
<rect x="303.50" y="1019.54" width="9.00" height="138.96" fill="#99745B" stroke="#000" stroke-width="0.9"/>
<rect x="312.50" y="1050.42" width="9.00" height="108.08" fill="#D39257" stroke="#000" stroke-width="0.9"/>
<rect x="321.50" y="1083.23" width="9.00" height="75.27" fill="#D07F2C" stroke="#000" stroke-width="0.9"/>
<rect x="330.50" y="1069.72" width="9.00" height="88.78" fill="#FEB45F" stroke="#000" stroke-width="0.9"/>
<rect x="339.50" y="1069.72" width="9.00" height="88.78" fill="#EFA248" stroke="#000" stroke-width="0.9"/>
<rect x="348.50" y="1009.89" width="9.00" height="148.61" fill="#F0DBB4" stroke="#000" stroke-width="0.9"/>
<rect x="357.50" y="1052.35" width="9.00" height="106.15" fill="#FECC7E" stroke="#000" stroke-width="0.9"/>
<rect x="366.50" y="1077.44" width="9.00" height="81.06" fill="#D59223" stroke="#000" stroke-width="0.9"/>
<rect x="375.50" y="1063.93" width="9.00" height="94.57" fill="#FDC566" stroke="#000" stroke-width="0.9"/>
<rect x="384.50" y="1007.96" width="9.00" height="150.54" fill="#B4A479" stroke="#000" stroke-width="0.9"/>
<rect x="393.50" y="1019.54" width="9.00" height="138.96" fill="#6C5D3B" stroke="#000" stroke-width="0.9"/>
<rect x="402.50" y="1065.86" width="9.00" height="92.64" fill="#EBC959" stroke="#000" stroke-width="0.9"/>
<rect x="411.50" y="1036.91" width="9.00" height="121.59" fill="#9F946A" stroke="#000" stroke-width="0.9"/>
<rect x="420.50" y="1056.21" width="9.00" height="102.29" fill="#F1D664" stroke="#000" stroke-width="0.9"/>
<rect x="429.50" y="1067.79" width="9.00" height="90.71" fill="#CBAB2B" stroke="#000" stroke-width="0.9"/>
<rect x="438.50" y="1036.91" width="9.00" height="121.59" fill="#E4DA9C" stroke="#000" stroke-width="0.9"/>
<rect x="447.50" y="1050.42" width="9.00" height="108.08" fill="#9C8B28" stroke="#000" stroke-width="0.9"/>
<rect x="456.50" y="1013.75" width="9.00" height="144.75" fill="#5C5838" stroke="#000" stroke-width="0.9"/>
<rect x="465.50" y="975.15" width="9.00" height="183.35" fill="#C5C8B0" stroke="#000" stroke-width="0.9"/>
<rect x="474.50" y="1031.12" width="9.00" height="127.38" fill="#777143" stroke="#000" stroke-width="0.9"/>
<rect x="483.50" y="1019.54" width="9.00" height="138.96" fill="#D8DAA6" stroke="#000" stroke-width="0.9"/>
<rect x="492.50" y="982.87" width="9.00" height="175.63" fill="#4D5039" stroke="#000" stroke-width="0.9"/>
<rect x="501.50" y="998.31" width="9.00" height="160.19" fill="#6C7752" stroke="#000" stroke-width="0.9"/>
<rect x="510.50" y="992.52" width="9.00" height="165.98" fill="#D6DBC3" stroke="#000" stroke-width="0.9"/>
<rect x="519.50" y="1033.05" width="9.00" height="125.45" fill="#90B040" stroke="#000" stroke-width="0.9"/>
<rect x="528.50" y="1031.12" width="9.00" height="127.38" fill="#98B838" stroke="#000" stroke-width="0.9"/>
<rect x="537.50" y="969.36" width="9.00" height="189.14" fill="#424242" stroke="#000" stroke-width="0.9"/>
<rect x="546.50" y="1009.89" width="9.00" height="148.61" fill="#72964A" stroke="#000" stroke-width="0.9"/>
<rect x="555.50" y="1006.03" width="9.00" height="152.47" fill="#86A666" stroke="#000" stroke-width="0.9"/>
<rect x="564.50" y="1006.03" width="9.00" height="152.47" fill="#96B086" stroke="#000" stroke-width="0.9"/>
<rect x="573.50" y="1019.54" width="9.00" height="138.96" fill="#98CC88" stroke="#000" stroke-width="0.9"/>
<rect x="582.50" y="1004.10" width="9.00" height="154.40" fill="#52804C" stroke="#000" stroke-width="0.9"/>
<rect x="591.50" y="986.73" width="9.00" height="171.77" fill="#5A8C66" stroke="#000" stroke-width="0.9"/>
<rect x="600.50" y="984.80" width="9.00" height="173.70" fill="#6C9C7C" stroke="#000" stroke-width="0.9"/>
<rect x="609.50" y="982.87" width="9.00" height="175.63" fill="#34704A" stroke="#000" stroke-width="0.9"/>
<rect x="618.50" y="1007.96" width="9.00" height="150.54" fill="#0A9060" stroke="#000" stroke-width="0.9"/>
<rect x="627.50" y="998.31" width="9.00" height="160.19" fill="#B8E0D4" stroke="#000" stroke-width="0.9"/>
<rect x="636.50" y="1000.24" width="9.00" height="158.26" fill="#A8D8CC" stroke="#000" stroke-width="0.9"/>
<rect x="645.50" y="1021.47" width="9.00" height="137.03" fill="#50C4A8" stroke="#000" stroke-width="0.9"/>
<rect x="654.50" y="1023.40" width="9.00" height="135.10" fill="#08A888" stroke="#000" stroke-width="0.9"/>
<rect x="663.50" y="1023.40" width="9.00" height="135.10" fill="#0A9C88" stroke="#000" stroke-width="0.9"/>
<rect x="672.50" y="990.59" width="9.00" height="167.91" fill="#B4E0D8" stroke="#000" stroke-width="0.9"/>
<rect x="681.50" y="982.87" width="9.00" height="175.63" fill="#D0E0DC" stroke="#000" stroke-width="0.9"/>
<rect x="690.50" y="994.45" width="9.00" height="164.05" fill="#98C8C4" stroke="#000" stroke-width="0.9"/>
<rect x="699.50" y="1000.24" width="9.00" height="158.26" fill="#8CA4A0" stroke="#000" stroke-width="0.9"/>
<rect x="708.50" y="1015.68" width="9.00" height="142.82" fill="#4A5254" stroke="#000" stroke-width="0.9"/>
<rect x="717.50" y="1029.19" width="9.00" height="129.31" fill="#08A2B0" stroke="#000" stroke-width="0.9"/>
<rect x="726.50" y="1040.77" width="9.00" height="117.73" fill="#3C7074" stroke="#000" stroke-width="0.9"/>
<rect x="735.50" y="1044.63" width="9.00" height="113.87" fill="#057F8C" stroke="#000" stroke-width="0.9"/>
<rect x="744.50" y="1050.42" width="9.00" height="108.08" fill="#0A8C9C" stroke="#000" stroke-width="0.9"/>
<rect x="753.50" y="1034.98" width="9.00" height="123.52" fill="#68A8B8" stroke="#000" stroke-width="0.9"/>
<rect x="762.50" y="1015.68" width="9.00" height="142.82" fill="#687E88" stroke="#000" stroke-width="0.9"/>
<rect x="771.50" y="1063.93" width="9.00" height="94.57" fill="#74B8DC" stroke="#000" stroke-width="0.9"/>
<rect x="780.50" y="1073.58" width="9.00" height="84.92" fill="#1C5A78" stroke="#000" stroke-width="0.9"/>
<rect x="789.50" y="1002.17" width="9.00" height="156.33" fill="#A8B8BE" stroke="#000" stroke-width="0.9"/>
<rect x="798.50" y="1089.02" width="9.00" height="69.48" fill="#2C9CC4" stroke="#000" stroke-width="0.9"/>
<rect x="807.50" y="980.94" width="9.00" height="177.56" fill="#404044" stroke="#000" stroke-width="0.9"/>
<rect x="816.50" y="1081.30" width="9.00" height="77.20" fill="#245C7C" stroke="#000" stroke-width="0.9"/>
<rect x="825.50" y="1096.74" width="9.00" height="61.76" fill="#2878B8" stroke="#000" stroke-width="0.9"/>
<rect x="834.50" y="1056.21" width="9.00" height="102.29" fill="#426E98" stroke="#000" stroke-width="0.9"/>
<rect x="843.50" y="1090.95" width="9.00" height="67.55" fill="#2C6CB0" stroke="#000" stroke-width="0.9"/>
<rect x="852.50" y="1029.19" width="9.00" height="129.31" fill="#9CB0D8" stroke="#000" stroke-width="0.9"/>
<rect x="861.50" y="1038.84" width="9.00" height="119.66" fill="#909CD0" stroke="#000" stroke-width="0.9"/>
<rect x="870.50" y="1034.98" width="9.00" height="123.52" fill="#5A5EA8" stroke="#000" stroke-width="0.9"/>
<rect x="879.50" y="994.45" width="9.00" height="164.05" fill="#D4D8EC" stroke="#000" stroke-width="0.9"/>
<rect x="888.50" y="1006.03" width="9.00" height="152.47" fill="#ACACD4" stroke="#000" stroke-width="0.9"/>
<rect x="897.50" y="998.31" width="9.00" height="160.19" fill="#404048" stroke="#000" stroke-width="0.9"/>
<rect x="906.50" y="1009.89" width="9.00" height="148.61" fill="#5C5C78" stroke="#000" stroke-width="0.9"/>
<rect x="915.50" y="1013.75" width="9.00" height="144.75" fill="#9C90CC" stroke="#000" stroke-width="0.9"/>
<rect x="924.50" y="1023.40" width="9.00" height="135.10" fill="#64508C" stroke="#000" stroke-width="0.9"/>
<rect x="933.50" y="1009.89" width="9.00" height="148.61" fill="#A480BC" stroke="#000" stroke-width="0.9"/>
<rect x="942.50" y="1009.89" width="9.00" height="148.61" fill="#6C487C" stroke="#000" stroke-width="0.9"/>
<rect x="951.50" y="1009.89" width="9.00" height="148.61" fill="#784C88" stroke="#000" stroke-width="0.9"/>
<rect x="960.50" y="998.31" width="9.00" height="160.19" fill="#BEBEBE" stroke="#000" stroke-width="0.9"/>
<rect x="969.50" y="1023.40" width="9.00" height="135.10" fill="#907898" stroke="#000" stroke-width="0.9"/>
<rect x="978.50" y="1000.24" width="9.00" height="158.26" fill="#AC90AC" stroke="#000" stroke-width="0.9"/>
<rect x="987.50" y="1036.91" width="9.00" height="121.59" fill="#704068" stroke="#000" stroke-width="0.9"/>
<rect x="996.50" y="1021.47" width="9.00" height="137.03" fill="#BC94B4" stroke="#000" stroke-width="0.9"/>
<rect x="1005.50" y="1006.03" width="9.00" height="152.47" fill="#D8A8CC" stroke="#000" stroke-width="0.9"/>
<rect x="1014.50" y="996.38" width="9.00" height="162.12" fill="#A0587C" stroke="#000" stroke-width="0.9"/>
<rect x="1023.50" y="1017.61" width="9.00" height="140.89" fill="#C86898" stroke="#000" stroke-width="0.9"/>
<rect x="1032.50" y="1038.84" width="9.00" height="119.66" fill="#AC4878" stroke="#000" stroke-width="0.9"/>
<text x="155.50" y="1178.70" font-size="16" text-anchor="middle" fill="#000">1</text>
<text x="191.50" y="1178.70" font-size="16" text-anchor="middle" fill="#000">5</text>
<text x="227.50" y="1178.70" font-size="16" text-anchor="middle" fill="#000">9</text>
<text x="263.50" y="1178.70" font-size="16" text-anchor="middle" fill="#000">13</text>
<text x="299.50" y="1178.70" font-size="16" text-anchor="middle" fill="#000">17</text>
<text x="335.50" y="1178.70" font-size="16" text-anchor="middle" fill="#000">21</text>
<text x="371.50" y="1178.70" font-size="16" text-anchor="middle" fill="#000">25</text>
<text x="407.50" y="1178.70" font-size="16" text-anchor="middle" fill="#000">29</text>
<text x="443.50" y="1178.70" font-size="16" text-anchor="middle" fill="#000">33</text>
<text x="479.50" y="1178.70" font-size="16" text-anchor="middle" fill="#000">37</text>
<text x="515.50" y="1178.70" font-size="16" text-anchor="middle" fill="#000">41</text>
<text x="551.50" y="1178.70" font-size="16" text-anchor="middle" fill="#000">45</text>
<text x="587.50" y="1178.70" font-size="16" text-anchor="middle" fill="#000">49</text>
<text x="623.50" y="1178.70" font-size="16" text-anchor="middle" fill="#000">53</text>
<text x="659.50" y="1178.70" font-size="16" text-anchor="middle" fill="#000">57</text>
<text x="695.50" y="1178.70" font-size="16" text-anchor="middle" fill="#000">61</text>
<text x="731.50" y="1178.70" font-size="16" text-anchor="middle" fill="#000">65</text>
<text x="767.50" y="1178.70" font-size="16" text-anchor="middle" fill="#000">69</text>
<text x="803.50" y="1178.70" font-size="16" text-anchor="middle" fill="#000">73</text>
<text x="839.50" y="1178.70" font-size="16" text-anchor="middle" fill="#000">77</text>
<text x="875.50" y="1178.70" font-size="16" text-anchor="middle" fill="#000">81</text>
<text x="911.50" y="1178.70" font-size="16" text-anchor="middle" fill="#000">85</text>
<text x="947.50" y="1178.70" font-size="16" text-anchor="middle" fill="#000">89</text>
<text x="983.50" y="1178.70" font-size="16" text-anchor="middle" fill="#000">93</text>
<text x="1019.50" y="1178.70" font-size="16" text-anchor="middle" fill="#000">97</text>
<text x="595.00" y="1199.50" font-size="17" text-anchor="middle" fill="#000">CES Color</text>
<text transform="rotate(-90 99.4 1065.4)" x="99.4" y="1065.4" font-size="17.1" text-anchor="middle">Color Sample Fidelity, R<tspan font-size="12.3" dy="8.9">f,CESi</tspan></text>
<rect x="144.00" y="1216.00" width="456.00" height="207.50" fill="#e6e6e6" stroke="none" stroke-width="1"/>
<text x="90.00" y="1230.50" font-size="17.3" text-anchor="start" font-weight="bold" fill="#000">Notes:</text>
<text x="154.00" y="1236.00" font-size="16" text-anchor="start" fill="#000">Level 3</text>
<text x="640.30" y="1251.20" font-size="16.5" text-anchor="start" font-weight="bold" fill="#000">x</text>
<text x="669.20" y="1251.20" font-size="16" text-anchor="start" font-weight="bold" fill="#000" textLength="55" lengthAdjust="spacingAndGlyphs">0.3074</text>
<text x="640.30" y="1280.95" font-size="16.5" text-anchor="start" font-weight="bold" fill="#000">y</text>
<text x="669.20" y="1280.95" font-size="16" text-anchor="start" font-weight="bold" fill="#000" textLength="55" lengthAdjust="spacingAndGlyphs">0.3156</text>
<text x="640.30" y="1310.70" font-size="16.5" text-anchor="start" font-weight="bold" fill="#000">u'</text>
<text x="670.20" y="1310.70" font-size="16" text-anchor="start" font-weight="bold" fill="#000" textLength="55" lengthAdjust="spacingAndGlyphs">0.1992</text>
<text x="640.30" y="1340.45" font-size="16.5" text-anchor="start" font-weight="bold" fill="#000">v'</text>
<text x="669.20" y="1340.45" font-size="16" text-anchor="start" font-weight="bold" fill="#000" textLength="55" lengthAdjust="spacingAndGlyphs">0.4601</text>
<rect x="764.50" y="1216.50" width="176.00" height="207.00" fill="#fff" stroke="#000" stroke-width="1"/>
<text x="793.50" y="1245.40" font-size="16" text-anchor="start" font-weight="bold" fill="#000" textLength="116.8" lengthAdjust="spacingAndGlyphs">CIE 13.3-1995</text>
<text x="852.00" y="1276.00" font-size="16.5" text-anchor="middle" font-weight="bold" fill="#000">(CRI)</text>
<text x="825" y="1305" font-size="16.5" font-weight="bold">R<tspan font-size="12.5" dy="8.5">a</tspan></text>
<text x="860.50" y="1305.00" font-size="16.5" text-anchor="start" font-weight="bold" fill="#000">71</text>
<text x="822" y="1335" font-size="16.5" font-weight="bold">R<tspan font-size="12.5" dy="8.5">9</tspan></text>
<text x="857.00" y="1335.00" font-size="16.5" text-anchor="start" font-weight="bold" fill="#000" textLength="25.5" lengthAdjust="spacingAndGlyphs">-23</text>
<text x="600.00" y="1449.50" font-size="17.3" text-anchor="middle" font-weight="bold" fill="#000">Colors are for visual orientation purposes only.</text>
<g opacity="0.92">
<polygon points="816.9,369.7 921.2,400.0 914.6,463.0 816.9,489.6 721.0,463.0 713.7,400.0" fill="#526a7c" stroke="#f4eed8" stroke-width="3" stroke-linejoin="round"/>
<polygon points="802.5,445.9 834.2,445.9 842.8,476 817.9,484.6 793,476" fill="#f6c856"/>
<polygon points="724,445.9 768,445.9 752.7,463.5 728.8,456.8" fill="#f6c856"/>
<polygon points="867.7,445.9 911.8,445.9 908,456.8 884,463.9" fill="#f6c856"/>
<polygon points="792,410.2 809.3,403.1 810.2,404.5 803.5,410.8" fill="#f6c856"/><polygon points="813.5,410.2 816.6,402.6 819.8,410.2" fill="#f6c856"/><polygon points="841.8,410.2 824.6,403.1 823.6,404.5 830.3,410.8" fill="#f6c856"/>
<path d="M800.6,378.2 H833.2 V383 H827 L833.4,395.5 V399 H799.8 V395.5 L806.5,383 H800.6 Z M816.9,385.8 L809.2,395.5 H824.6 Z" fill="#f0904c" fill-rule="evenodd"/>
<text x="722.5" y="440.4" font-size="35" font-weight="bold" fill="#f0904c" stroke="#f0904c" stroke-width="1.7" stroke-linejoin="miter" textLength="181" lengthAdjust="spacingAndGlyphs">ZEROAIR</text>
<text transform="rotate(-90 912.8 440.8)" x="912.8" y="440.8" font-size="11.5" font-weight="bold" fill="#f0904c" stroke="#f0904c" stroke-width="0.5" textLength="24" lengthAdjust="spacingAndGlyphs">ORG</text>
</g>
<line x1="717.50" y1="416.50" x2="917.50" y2="416.50" stroke="#000" stroke-width="1" opacity="0.55"/>
<line x1="720.00" y1="457.50" x2="915.00" y2="457.50" stroke="#000" stroke-width="1" opacity="0.55"/>
<g clip-path="url(#cvgclip)">
<circle cx="324.3" cy="701.2" r="146.1" fill="none" stroke="#e9e7e1" stroke-width="2.1" opacity="0.9"/>
<circle cx="324.3" cy="701.2" r="164.3" fill="none" stroke="#e9e7e1" stroke-width="2.1" opacity="0.9"/>
<circle cx="324.3" cy="701.2" r="200.9" fill="none" stroke="#e9e7e1" stroke-width="2.1" opacity="0.9"/>
<circle cx="324.3" cy="701.2" r="219.1" fill="none" stroke="#e9e7e1" stroke-width="2.1" opacity="0.9"/>
<line x1="324.30" y1="701.20" x2="724.30" y2="701.20" stroke="#3a3a3a" stroke-width="0.75" stroke-dasharray="6.5 5.5"/>
<line x1="340.93" y1="694.31" x2="546.03" y2="609.36" stroke="#3a3a3a" stroke-width="0.7" stroke-dasharray="6.5 5.5"/>
<line x1="337.03" y1="688.47" x2="494.01" y2="531.49" stroke="#3a3a3a" stroke-width="0.7" stroke-dasharray="6.5 5.5"/>
<line x1="331.19" y1="684.57" x2="416.14" y2="479.47" stroke="#3a3a3a" stroke-width="0.7" stroke-dasharray="6.5 5.5"/>
<line x1="324.30" y1="701.20" x2="324.30" y2="301.20" stroke="#3a3a3a" stroke-width="0.75" stroke-dasharray="6.5 5.5"/>
<line x1="317.41" y1="684.57" x2="232.46" y2="479.47" stroke="#3a3a3a" stroke-width="0.7" stroke-dasharray="6.5 5.5"/>
<line x1="311.57" y1="688.47" x2="154.59" y2="531.49" stroke="#3a3a3a" stroke-width="0.7" stroke-dasharray="6.5 5.5"/>
<line x1="307.67" y1="694.31" x2="102.57" y2="609.36" stroke="#3a3a3a" stroke-width="0.7" stroke-dasharray="6.5 5.5"/>
<line x1="324.30" y1="701.20" x2="-75.70" y2="701.20" stroke="#3a3a3a" stroke-width="0.75" stroke-dasharray="6.5 5.5"/>
<line x1="307.67" y1="708.09" x2="102.57" y2="793.04" stroke="#3a3a3a" stroke-width="0.7" stroke-dasharray="6.5 5.5"/>
<line x1="311.57" y1="713.93" x2="154.59" y2="870.91" stroke="#3a3a3a" stroke-width="0.7" stroke-dasharray="6.5 5.5"/>
<line x1="317.41" y1="717.83" x2="232.46" y2="922.93" stroke="#3a3a3a" stroke-width="0.7" stroke-dasharray="6.5 5.5"/>
<line x1="324.30" y1="701.20" x2="324.30" y2="1101.20" stroke="#3a3a3a" stroke-width="0.75" stroke-dasharray="6.5 5.5"/>
<line x1="331.19" y1="717.83" x2="416.14" y2="922.93" stroke="#3a3a3a" stroke-width="0.7" stroke-dasharray="6.5 5.5"/>
<line x1="337.03" y1="713.93" x2="494.01" y2="870.91" stroke="#3a3a3a" stroke-width="0.7" stroke-dasharray="6.5 5.5"/>
<line x1="340.93" y1="708.09" x2="546.03" y2="793.04" stroke="#3a3a3a" stroke-width="0.7" stroke-dasharray="6.5 5.5"/>
</g>
<text x="325.80" y="935.00" font-size="15" text-anchor="middle" fill="#fff" opacity="0.7">+20%</text>
<text x="324.30" y="838.00" font-size="14.5" text-anchor="middle" fill="#fff" opacity="0.12">-20%</text>
<circle cx="324.3" cy="701.2" r="182.6" fill="none" stroke="#000" stroke-width="2"/>
<line x1="503.22" y1="664.70" x2="479.17" y2="676.26" stroke="#000" stroke-width="2.0"/>
<polygon points="474.3,678.6 481.0,671.7 483.8,677.7" fill="#000"/>
<line x1="473.94" y1="596.55" x2="447.80" y2="595.76" stroke="#000" stroke-width="2.0"/>
<polygon points="442.4,595.6 451.5,592.6 451.3,599.2" fill="#000"/>
<line x1="426.21" y1="549.68" x2="390.15" y2="538.32" stroke="#000" stroke-width="2.0"/>
<polygon points="385.0,536.7 394.6,536.3 392.6,542.6" fill="#000"/>
<line x1="349.90" y1="520.40" x2="320.54" y2="505.89" stroke="#000" stroke-width="2.0"/>
<polygon points="315.7,503.5 325.2,504.5 322.3,510.4" fill="#000"/>
<line x1="307.35" y1="519.39" x2="276.98" y2="497.55" stroke="#000" stroke-width="2.0"/>
<polygon points="272.6,494.4 281.8,497.0 278.0,502.3" fill="#000"/>
<line x1="227.19" y1="546.56" x2="216.01" y2="529.88" stroke="#000" stroke-width="2.0"/>
<polygon points="213.0,525.4 220.8,531.0 215.3,534.7" fill="#000"/>
<line x1="163.88" y1="613.98" x2="167.09" y2="605.45" stroke="#000" stroke-width="2.0"/>
<polygon points="169.0,600.4 168.9,610.0 162.7,607.7" fill="#000"/>
<line x1="143.18" y1="678.04" x2="157.44" y2="665.56" stroke="#000" stroke-width="2.0"/>
<polygon points="161.5,662.0 156.9,670.4 152.6,665.4" fill="#000"/>
<line x1="144.09" y1="730.64" x2="172.96" y2="726.13" stroke="#000" stroke-width="2.0"/>
<polygon points="178.3,725.3 169.9,729.9 168.9,723.4" fill="#000"/>
<line x1="176.53" y1="808.46" x2="213.28" y2="820.87" stroke="#000" stroke-width="2.0"/>
<polygon points="218.4,822.6 208.8,822.8 210.9,816.6" fill="#000"/>
<line x1="221.82" y1="852.33" x2="267.59" y2="870.69" stroke="#000" stroke-width="2.0"/>
<polygon points="272.6,872.7 263.0,872.4 265.5,866.3" fill="#000"/>
<line x1="299.10" y1="882.05" x2="331.56" y2="896.33" stroke="#000" stroke-width="2.0"/>
<polygon points="336.5,898.5 326.9,897.9 329.6,891.9" fill="#000"/>
<line x1="355.68" y1="881.08" x2="374.73" y2="900.63" stroke="#000" stroke-width="2.0"/>
<polygon points="378.5,904.5 369.9,900.4 374.6,895.8" fill="#000"/>
<line x1="440.90" y1="841.72" x2="450.35" y2="867.63" stroke="#000" stroke-width="2.0"/>
<polygon points="452.2,872.7 446.0,865.4 452.2,863.1" fill="#000"/>
<line x1="473.37" y1="806.66" x2="466.72" y2="838.12" stroke="#000" stroke-width="2.0"/>
<polygon points="465.6,843.4 464.2,833.9 470.7,835.3" fill="#000"/>
<line x1="504.08" y1="733.17" x2="495.43" y2="753.34" stroke="#000" stroke-width="2.0"/>
<polygon points="493.3,758.3 493.8,748.7 499.9,751.3" fill="#000"/>
<polygon points="474.3,678.6 442.4,595.6 385.0,536.7 315.7,503.5 272.6,494.4 213.0,525.4 169.0,600.4 161.5,662.0 178.3,725.3 218.4,822.6 272.6,872.7 336.5,898.5 378.5,904.5 452.2,872.7 465.6,843.4 493.3,758.3" fill="none" stroke="#f00" stroke-width="1.8" stroke-linejoin="round"/>
<text x="551.25" y="664.96" font-size="25" text-anchor="middle" fill="#000">1</text>
<text x="516.70" y="581.54" font-size="25" text-anchor="middle" fill="#000">2</text>
<text x="452.86" y="517.70" font-size="25" text-anchor="middle" fill="#000">3</text>
<text x="369.44" y="483.15" font-size="25" text-anchor="middle" fill="#000">4</text>
<text x="279.16" y="483.15" font-size="25" text-anchor="middle" fill="#000">5</text>
<text x="195.74" y="517.70" font-size="25" text-anchor="middle" fill="#000">6</text>
<text x="131.90" y="581.54" font-size="25" text-anchor="middle" fill="#000">7</text>
<text x="97.35" y="664.96" font-size="25" text-anchor="middle" fill="#000">8</text>
<text x="97.35" y="755.24" font-size="25" text-anchor="middle" fill="#000">9</text>
<text x="131.90" y="838.66" font-size="25" text-anchor="middle" fill="#000">10</text>
<text x="195.74" y="902.50" font-size="25" text-anchor="middle" fill="#000">11</text>
<text x="279.16" y="937.05" font-size="25" text-anchor="middle" fill="#000">12</text>
<text x="369.44" y="937.05" font-size="25" text-anchor="middle" fill="#000">13</text>
<text x="452.86" y="902.50" font-size="25" text-anchor="middle" fill="#000">14</text>
<text x="516.70" y="838.66" font-size="25" text-anchor="middle" fill="#000">15</text>
<text x="551.25" y="755.24" font-size="25" text-anchor="middle" fill="#000">16</text>
<rect x="80.00" y="457.00" width="488.00" height="488.00" fill="none" stroke="#000" stroke-width="1.8"/>
<text x="85.00" y="484.60" font-size="32" text-anchor="start" font-weight="bold" fill="#000">70</text>
<text x="84.5" y="504.5" font-size="24">R<tspan font-size="18" dy="11.5">f</tspan></text>
<text x="557.50" y="484.60" font-size="32" text-anchor="end" font-weight="bold" fill="#000">97</text>
<text x="526.3" y="504.5" font-size="24">R<tspan font-size="18" dy="11.5">g</tspan></text>
<text x="84.50" y="909.20" font-size="24.6" text-anchor="start" fill="#000">CCT</text>
<text x="85.00" y="941.20" font-size="32" text-anchor="start" font-weight="bold" fill="#000">6950 K</text>
<text x="512.8" y="909.3" font-size="24">D<tspan font-size="18" dy="5.4">uv</tspan></text>
<text x="557.80" y="941.20" font-size="32" text-anchor="end" font-weight="bold" fill="#000">-0.0010</text>
</svg>
</body></html>
